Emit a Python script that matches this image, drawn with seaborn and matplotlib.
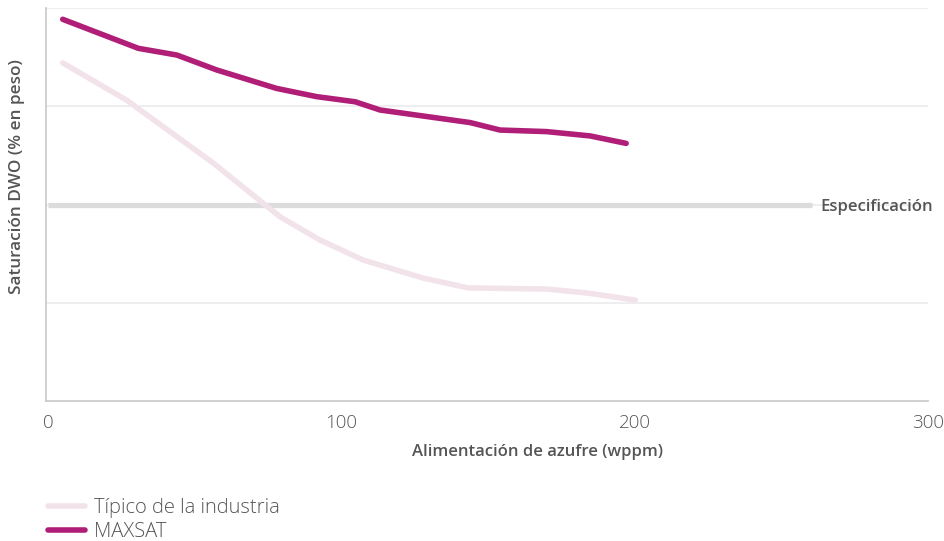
import pandas as pd
import matplotlib.pyplot as plt
import seaborn as sns

# Data
maxsat_x = [5.0, 30.8, 43.9, 57.5, 77.9, 91.6, 104.7, 113.2, 143.9, 154.1, 170.0, 184.8, 197.1]
maxsat_y = [97.2, 89.8, 88.1, 84.3, 79.6, 77.5, 76.2, 74.1, 70.9, 69.0, 68.6, 67.5, 65.6]
industry_x = [5.0, 26.8, 56.3, 79.1, 92.7, 107.4, 127.9, 143.2, 170.1, 183.8, 200.2]
industry_y = [86.1, 76.6, 60.6, 46.9, 41.0, 35.9, 31.3, 28.8, 28.5, 27.5, 25.7]
spec_x = [0, 260.5]
spec_y = [50, 50]
x_ticks = [0, 100, 200, 300]
y_grid = [25, 50, 75, 100]

df = pd.concat([
    pd.DataFrame({'x': industry_x, 'y': industry_y, 'serie': 'Típico de la industria'}),
    pd.DataFrame({'x': maxsat_x, 'y': maxsat_y, 'serie': 'MAXSAT'}),
])

sns.set_theme(style='white')
plt.rcParams['font.family'] = ['Open Sans', 'DejaVu Sans']
text_col = '#555555'

fig = plt.figure(figsize=(9.44, 5.41), dpi=100)
ax = fig.add_axes([46 / 944, 140 / 541, 882 / 944, 392.7 / 541])

for g in y_grid:
    ax.axhline(g, color='#ebebeb', lw=1.2, zorder=0)

ax.plot(spec_x, spec_y, color='#dcdcdc', lw=3.8, solid_capstyle='butt', zorder=1)
ax.text(263.3, 49.5, 'Especificación', color=text_col, fontsize=12, fontweight='semibold',
        va='center', ha='left')

palette = {'Típico de la industria': '#f2e3ea', 'MAXSAT': '#b01e78'}
sns.lineplot(data=df, x='x', y='y', hue='serie', palette=palette, lw=4,
             ax=ax, legend=False, zorder=2)
for ln in ax.get_lines()[-2:]:
    ln.set_solid_capstyle('round')
    ln.set_solid_joinstyle('round')

ax.set_xlim(-0.7, 300)
ax.set_ylim(0, 100)
ax.set_xticks(x_ticks)
ax.set_yticks([])
ax.tick_params(axis='x', length=0, pad=9, labelsize=13.5, colors=text_col)
for lab in ax.get_xticklabels():
    lab.set_fontweight('light')
ax.set_xlabel('')
ax.set_ylabel('')

for side in ['top', 'right']:
    ax.spines[side].set_visible(False)
for side in ['left', 'bottom']:
    ax.spines[side].set_color('#c8c8c8')
    ax.spines[side].set_linewidth(1.2)

fig.text(537 / 944, 1 - 452 / 541, 'Alimentación de azufre (wppm)', color=text_col,
         fontsize=12, fontweight='semibold', ha='center', va='center')
fig.text(17 / 944, 1 - 176 / 541, 'Saturación DWO (% en peso)', color=text_col,
         fontsize=12.3, fontweight='semibold', ha='center', va='center', rotation=90)

handles = [plt.Line2D([], [], color=palette[k], lw=4) for k in palette]
leg = fig.legend(handles, list(palette.keys()), loc='upper left',
                 bbox_to_anchor=(40 / 944, 1 - 490 / 541), frameon=False,
                 fontsize=14.5, handlelength=1.85, handletextpad=0.45,
                 labelspacing=0.2, borderaxespad=0)
for t in leg.get_texts():
    t.set_color(text_col)
    t.set_fontweight('light')

fig.savefig('out.png', dpi=100)
